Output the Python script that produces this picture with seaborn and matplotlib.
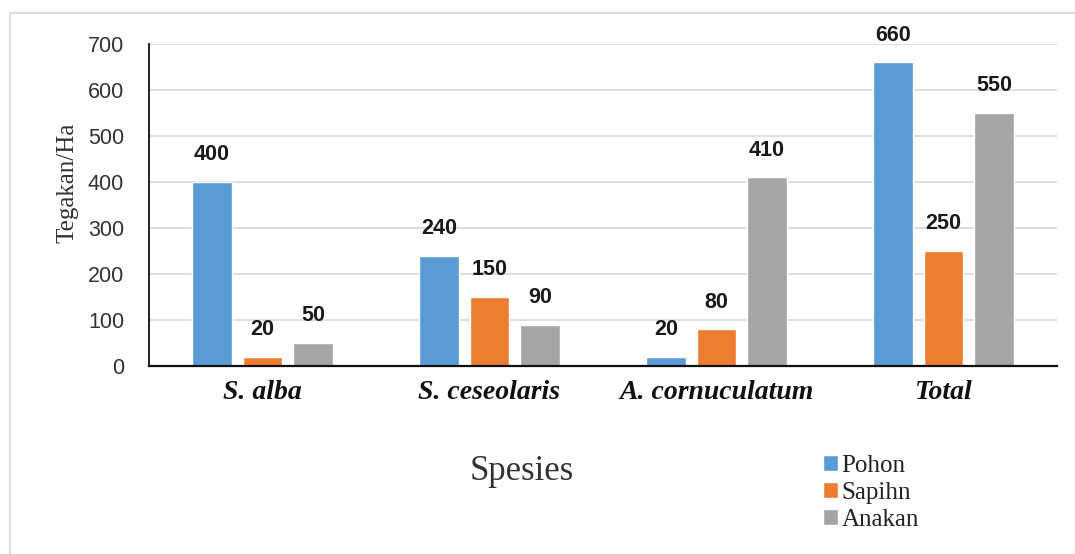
import matplotlib
matplotlib.use("Agg")
import matplotlib.pyplot as plt
import seaborn as sns
import pandas as pd
from matplotlib.patches import Rectangle

# data
spesies = ["S. alba", "S. ceseolaris", "A. cornuculatum", "Total"]
pohon = [400, 240, 20, 660]
sapihn = [20, 150, 80, 250]
anakan = [50, 90, 410, 550]
tingkat = ["Pohon", "Sapihn", "Anakan"]
warna = ["#5B9BD5", "#ED7D31", "#A5A5A5"]

df = pd.DataFrame({
    "Spesies": spesies * 3,
    "Tingkat": [t for t in tingkat for _ in spesies],
    "Nilai": pohon + sapihn + anakan,
})

sns.set_style("white")
plt.rcParams['font.family'] = ['Liberation Sans', 'DejaVu Sans']

fig = plt.figure(figsize=(10.75, 5.54), dpi=100)
ax = fig.add_axes([149/1075, 1 - 366/554, (1057 - 149)/1075, (366 - 44)/554])

sns.barplot(data=df, x="Spesies", y="Nilai", hue="Tingkat", order=spesies,
            hue_order=tingkat, palette=warna, width=0.667, gap=0.21,
            saturation=1, ax=ax, legend=True)

for c in ax.containers:
    ax.bar_label(c, padding=12, fontsize=15.5, fontweight="bold", color="#1a1a1a")

ax.set_ylim(0, 700)
ax.set_yticks(range(0, 701, 100))
ax.yaxis.grid(True, color="#d9d9d9", lw=1.2)
ax.set_axisbelow(True)
for s in ["top", "right"]:
    ax.spines[s].set_visible(False)
ax.spines["left"].set_color("#111111")
ax.spines["bottom"].set_color("#111111")
ax.spines["left"].set_linewidth(1.3)
ax.spines["bottom"].set_linewidth(1.6)
ax.tick_params(axis="y", labelsize=15.5, colors="#333333", length=0, pad=18)
ax.tick_params(axis="x", length=0, pad=10)
for t in ax.get_xticklabels():
    t.set_fontfamily("Liberation Serif")
    t.set_fontstyle("italic")
    t.set_fontweight("bold")
    t.set_fontsize(20)
    t.set_color("#111111")

ax.set_ylabel("Tegakan/Ha", fontfamily="Liberation Serif", fontsize=18,
              color="#333333")
ax.yaxis.set_label_coords(-0.078, 0.568)
ax.set_xlabel("")
fig.text(522/1075, 1 - 472/554, "Spesies", fontfamily="Liberation Serif",
         fontsize=25, color="#333333", ha="center", va="center")

leg = ax.legend(loc="upper left", bbox_to_anchor=(810/1075, 1 - 442/554),
                bbox_transform=fig.transFigure, frameon=False,
                prop={"family": "Liberation Serif", "size": 18},
                handlelength=0.6, handleheight=0.6, handletextpad=0.15,
                labelspacing=0.2, borderpad=0, labelcolor="#222222")

# light frame around the chart area
fig.patches.append(Rectangle((10/1075, -0.05), 1.1, 1 - 13/554 + 0.05,
                             transform=fig.transFigure, fill=False,
                             edgecolor="#dddddd", lw=1.5))

fig.savefig("out.png", dpi=100)
